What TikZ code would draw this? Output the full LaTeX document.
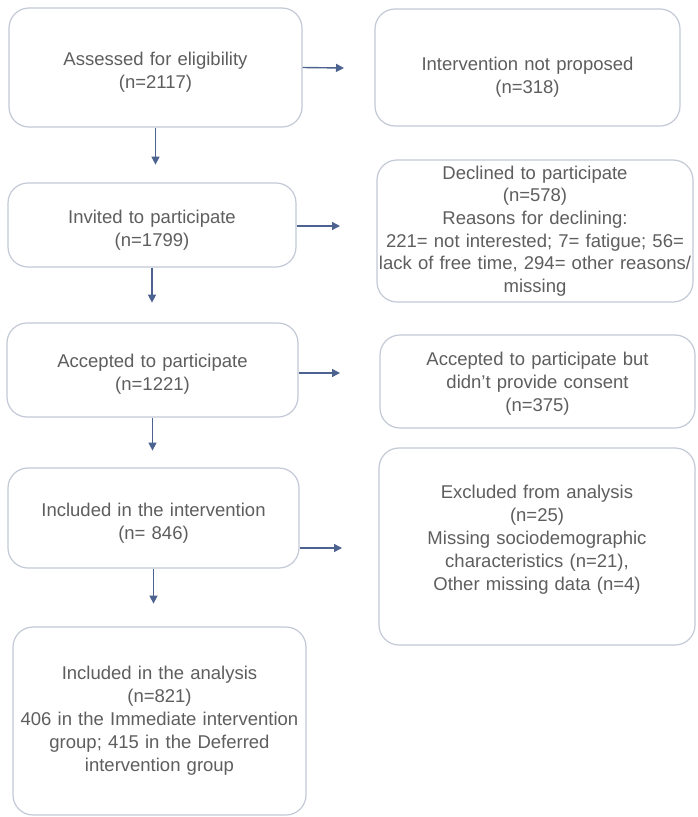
\documentclass[tikz,border=0pt]{standalone}
\usepackage{fontspec}
\setmainfont{Liberation Sans}
\usetikzlibrary{arrows.meta}
\definecolor{boxline}{HTML}{C3C9D6}
\definecolor{arrowline}{HTML}{4C6390}
\definecolor{labeltext}{HTML}{5E5E5E}
\tikzset{
  flowbox/.style={draw=boxline, line width=1.2pt, rounded corners=20pt, align=center,
    text=labeltext, font=\fontsize{18.5}{23}\selectfont, inner sep=0pt},
  flowarrow/.style={draw=arrowline, line width=1.4pt, -{Triangle[length=8pt,width=8pt]}}
}
\begin{document}
\begin{tikzpicture}[x=1pt,y=-1pt]
  \useasboundingbox[fill=white] (0,0) rectangle (697,817);
  % left column
  \node[flowbox, minimum width=293pt, minimum height=119pt, text width=280pt, text height=23.5pt] (assessed) at (155.5,67.5) {Assessed for eligibility\\(n=2117)};
  \node[flowbox, minimum width=288pt, minimum height=84pt, text width=280pt, text height=23.5pt] (invited) at (152,225) {Invited to participate\\(n=1799)};
  \node[flowbox, minimum width=291pt, minimum height=94pt, text width=280pt, text height=21.5pt] (accepted) at (152.5,370) {Accepted to participate\\(n=1221)};
  \node[flowbox, minimum width=291pt, minimum height=100pt, text width=285pt, text height=23.5pt] (included) at (153.5,518) {Included in the intervention\\(n= 846)};
  \node[flowbox, minimum width=293pt, minimum height=188pt, text width=292pt] (analysis) at (159.5,721) {Included in the analysis\\(n=821)\\406 in the Immediate intervention\\group; 415 in the Deferred\\intervention group};
  % right column
  \node[flowbox, minimum width=305pt, minimum height=117pt, text width=295pt, text height=33.5pt] (notprop) at (527.5,67.5) {Intervention not proposed\\(n=318)};
  \node[flowbox, minimum width=316pt, minimum height=142pt, text width=316pt, font=\fontsize{18.5}{22.6}\selectfont] (declined) at (535,231) {Declined to participate\\(n=578)\\Reasons for declining:\\221= not interested; 7= fatigue; 56=\\lack of free time, 294= other reasons/\\missing};
  \node[flowbox, minimum width=315pt, minimum height=93pt, text width=300pt, text height=17.5pt] (noconsent) at (537.5,381.5) {Accepted to participate but\\didn't provide consent\\(n=375)};
  \node[flowbox, minimum width=316pt, minimum height=197pt, text width=300pt, text depth=110pt] (excluded) at (537,546.5) {Excluded from analysis\\(n=25)\\Missing sociodemographic\\characteristics (n=21),\\Other missing data (n=4)};
  % free arrow ends
  \coordinate (assessed-r) at (344,68);
  \coordinate (invited-r) at (340,226);
  \coordinate (accepted-r) at (340,373);
  \coordinate (included-r) at (342,548);
  \coordinate (assessed-d) at ([yshift=-37pt]assessed.south);
  \coordinate (invited-d) at ([yshift=-35pt]invited.south);
  \coordinate (accepted-d) at ([yshift=-33pt]accepted.south);
  \coordinate (included-d) at ([yshift=-35pt]included.south);
  % arrows
  \draw[flowarrow] (assessed.east) -- (assessed-r);
  \draw[flowarrow] (invited.east |- invited-r) -- (invited-r);
  \draw[flowarrow] (accepted.east |- accepted-r) -- (accepted-r);
  \draw[flowarrow] (included.east |- included-r) -- (included-r);
  \draw[flowarrow] (assessed.south) -- (assessed-d);
  \draw[flowarrow] (invited.south) -- (invited-d);
  \draw[flowarrow] (accepted.south) -- (accepted-d);
  \draw[flowarrow] (included.south) -- (included-d);
\end{tikzpicture}
\end{document}
